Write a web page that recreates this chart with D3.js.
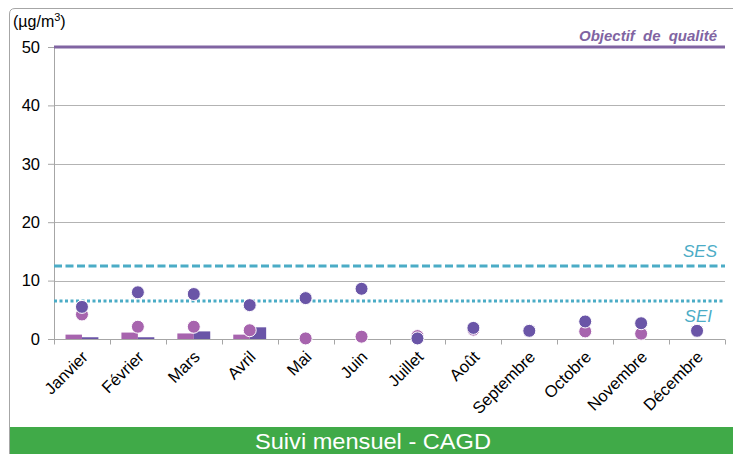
<!DOCTYPE html>
<head>
  <meta charset="utf-8">
  <title>Suivi mensuel - CAGD</title>
  <style>
  body { margin: 0; background: #fff; }
  svg { font-family: "Liberation Sans", Arial, sans-serif; display: block; }
  .grid line { stroke: #b3b3b3; }
  .axis path, .axis line { stroke: #a6a6a6; }
  .axis text { fill: #000; }
  </style>
</head>

<svg id="chart"></svg>

<script src="https://cdn.jsdelivr.net/npm/d3@7"></script>

<script>
"use strict";

// donnees
var mois = ["Janvier", "Février", "Mars", "Avril", "Mai", "Juin", "Juillet",
            "Août", "Septembre", "Octobre", "Novembre", "Décembre"];
var barresClaires = [0.75, 1.1, 0.95, 0.75, null, null, null, null, null, null, null, null];
var barresFoncees = [0.3, 0.3, 1.3, 2.0, null, null, null, null, null, null, null, null];
var pointsClairs = [4.2, 2.1, 2.1, 1.5, 0.1, 0.4, 0.5, 1.6, 1.4, 1.3, 0.9, 1.4];
var pointsFonces = [5.5, 8.0, 7.7, 5.8, 7.0, 8.6, 0.1, 1.9, 1.4, 3.0, 2.7, 1.4];
var yTicks = [0, 10, 20, 30, 40, 50];
var objectif = 50, ses = 12.5, sei = 6.5;

var totalWidth = 733,
    totalHeight = 454;

var svg = d3.select("#chart")
    .attr("width", totalWidth)
    .attr("height", totalHeight);

var marge = {left: 54, right: 725, top: 47, bottom: 339};

var clair = "#a764ae", fonce = "#6a55a7", cyan = "#4bacc6", violet = "#8064a2";

// cadre
svg.append("path")
    .attr("d", "M9.5,454 L9.5,14 Q9.5,8.5 15,8.5 L733,8.5")
    .attr("fill", "none")
    .attr("stroke", "#a6a6a6");

svg.append("path")
    .attr("d", "M10,427 L733,427 L733,454 L10,454 Z")
    .attr("fill", "#40aa48");

svg.append("text")
    .attr("x", 373)
    .attr("y", 449)
    .attr("text-anchor", "middle")
    .attr("fill", "#fff")
    .attr("font-size", 22)
    .attr("textLength", 236)
    .attr("lengthAdjust", "spacingAndGlyphs")
    .text("Suivi mensuel - CAGD");

// echelles
var y = d3.scaleLinear()
    .domain([0, 50])
    .range([marge.bottom, marge.top]);

var x = d3.scaleBand()
    .domain(mois)
    .range([marge.left, marge.right])
    .padding(0);

var xs = d3.scaleBand()
    .domain(["clair", "fonce"])
    .range([0, x.bandwidth()])
    .paddingOuter(0.7)
    .paddingInner(0);

var g = svg.append("g");

// grille
g.append("g")
    .attr("class", "grid")
    .selectAll("line")
    .data(yTicks.filter(function(d) { return d > 0 && d < 50; }))
  .enter().append("line")
    .attr("x1", marge.left)
    .attr("x2", marge.right)
    .attr("y1", function(d) { return Math.round(y(d)) + 0.5; })
    .attr("y2", function(d) { return Math.round(y(d)) + 0.5; });

// axe y
var axeY = g.append("g")
    .attr("class", "axis")
    .attr("transform", "translate(" + marge.left + ",0)")
    .call(d3.axisLeft(y).tickValues(yTicks).tickSize(6).tickPadding(8));
axeY.selectAll("text").attr("font-size", 16.5);
axeY.select(".domain").attr("d", "M0.5," + marge.top + "V" + marge.bottom);

// axe x
var axeX = g.append("g")
    .attr("class", "axis")
    .attr("transform", "translate(0," + (marge.bottom + 0.5) + ")")
    .call(d3.axisBottom(x).tickSize(0).tickFormat(""));
axeX.select(".domain").attr("d", "M" + marge.left + ",0H" + marge.right);

axeX.selectAll(".sep")
    .data(mois.concat(["fin"]))
  .enter().append("line")
    .attr("class", "sep")
    .attr("x1", function(d, i) { return Math.round(marge.left + i * x.step()) + 0.5; })
    .attr("x2", function(d, i) { return Math.round(marge.left + i * x.step()) + 0.5; })
    .attr("y1", 0)
    .attr("y2", 5);

g.append("g")
    .selectAll("text")
    .data(mois)
  .enter().append("text")
    .attr("transform", function(d) {
      return "translate(" + (x(d) + x.bandwidth() / 2 + 7) + "," + (marge.bottom + 19) + ") rotate(-45)";
    })
    .attr("text-anchor", "end")
    .attr("font-size", 16.5)
    .text(function(d) { return d; });

// unite
svg.append("text")
    .attr("x", 13)
    .attr("y", 27)
    .attr("font-size", 16)
    .html("(µg/m<tspan dy='-6' font-size='11'>3</tspan><tspan dy='6'>)</tspan>");

// barres
var barres = g.append("g");
barres.selectAll(".bc")
    .data(mois.map(function(m, i) { return {m: m, v: barresClaires[i]}; })
      .filter(function(d) { return d.v != null; }))
  .enter().append("rect")
    .attr("x", function(d) { return x(d.m) + xs("clair"); })
    .attr("y", function(d) { return y(d.v); })
    .attr("width", xs.bandwidth())
    .attr("height", function(d) { return marge.bottom - y(d.v); })
    .attr("fill", clair);

barres.selectAll(".bf")
    .data(mois.map(function(m, i) { return {m: m, v: barresFoncees[i]}; })
      .filter(function(d) { return d.v != null; }))
  .enter().append("rect")
    .attr("x", function(d) { return x(d.m) + xs("fonce"); })
    .attr("y", function(d) { return y(d.v); })
    .attr("width", xs.bandwidth())
    .attr("height", function(d) { return marge.bottom - y(d.v); })
    .attr("fill", fonce);

// lignes de reference
function ligne(v, couleur, largeur, dash) {
  g.append("line")
    .attr("x1", marge.left)
    .attr("x2", marge.right)
    .attr("y1", y(v))
    .attr("y2", y(v))
    .attr("stroke", couleur)
    .attr("stroke-width", largeur)
    .attr("stroke-dasharray", dash);
}
ligne(objectif, violet, 3, null);
ligne(ses, cyan, 3, "8,3.5");
ligne(sei, cyan, 3, "3,2.5");

g.append("text")
    .attr("x", 717)
    .attr("y", y(objectif) - 6)
    .attr("text-anchor", "end")
    .attr("font-size", 15)
    .attr("font-weight", "bold")
    .attr("font-style", "italic")
    .attr("word-spacing", 4)
    .attr("fill", violet)
    .text("Objectif de qualité");

g.append("text")
    .attr("x", 717)
    .attr("y", y(ses) - 9)
    .attr("text-anchor", "end")
    .attr("font-size", 17)
    .attr("font-style", "italic")
    .attr("fill", cyan)
    .text("SES");

g.append("text")
    .attr("x", 712)
    .attr("y", y(sei) + 21)
    .attr("text-anchor", "end")
    .attr("font-size", 17)
    .attr("font-style", "italic")
    .attr("fill", cyan)
    .text("SEI");

// points
function points(valeurs, couleur) {
  g.append("g")
    .selectAll("circle")
    .data(mois.map(function(m, i) { return {m: m, v: valeurs[i]}; })
      .filter(function(d) { return d.v != null; }))
  .enter().append("circle")
    .attr("cx", function(d) { return x(d.m) + x.bandwidth() / 2; })
    .attr("cy", function(d) { return y(d.v); })
    .attr("r", 6.5)
    .attr("fill", couleur)
    .attr("stroke", "#fff")
    .attr("stroke-width", 1);
}
points(pointsClairs, clair);
points(pointsFonces, fonce);
</script>
